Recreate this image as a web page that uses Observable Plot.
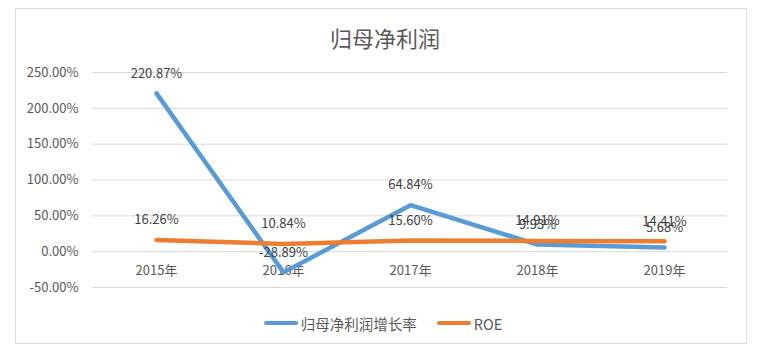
<!DOCTYPE html>
<html>
<head>
<meta charset="utf-8">
<script src="https://cdn.jsdelivr.net/npm/d3@7"></script>
<script src="https://cdn.jsdelivr.net/npm/@observablehq/plot@0.6"></script>
<style>
  body { margin: 0; background: #fff; }
  #wrap { position: relative; width: 766px; height: 351px; font-family: "Noto Sans CJK SC", "Noto Sans", sans-serif; }
  #border { position: absolute; left: 15px; top: 8px; width: 730px; height: 334px; border: 1px solid #d9d9d9; }
  #title { position: absolute; left: 0; width: 766px; top: 21px; text-align: center; font-size: 22px; color: #595959; padding-left: 4px; box-sizing: border-box; }
  #legend { position: absolute; left: 0; width: 766px; top: 308px; text-align: center; font-size: 14.5px; color: #595959; }
  .lg { display: inline-flex; align-items: center; margin: 0 10px; }
  .sw { display: inline-block; width: 34px; height: 4px; margin-right: 3px; border-radius: 2px; }
  #chart { position: absolute; left: 0; top: 0; }
</style>
</head>
<body>
<div id="wrap">
  <div id="border"></div>
  <div id="chart"></div>
  <div id="title"></div>
  <div id="legend"></div>
</div>
<script>
const title = "归母净利润";
const years = ["2015年", "2016年", "2017年", "2018年", "2019年"];
const growth = [220.87, -28.89, 64.84, 9.93, 5.68];
const roe = [16.26, 10.84, 15.60, 14.91, 14.41];
const yTicks = [-50, 0, 50, 100, 150, 200, 250];
const seriesNames = ["归母净利润增长率", "ROE"];
const colors = ["#5B9BD5", "#ED7D31"];

const rows = [];
years.forEach((y, i) => {
  rows.push({year: y, value: growth[i], series: seriesNames[0]});
  rows.push({year: y, value: roe[i], series: seriesNames[1]});
});
const fmt = v => v.toFixed(2) + "%";

const plot = Plot.plot({
  width: 766,
  height: 351,
  marginLeft: 92,
  marginRight: 39,
  marginTop: 72,
  marginBottom: 64,
  style: {fontFamily: '"Noto Sans CJK SC", "Noto Sans", sans-serif', fontSize: "13px", background: "transparent"},
  x: {type: "point", domain: years, padding: 0.5, axis: null},
  y: {domain: [-50, 250], axis: null},
  color: {domain: seriesNames, range: colors},
  marks: [
    Plot.ruleY(yTicks, {stroke: "#d9d9d9", strokeWidth: 1}),
    Plot.text(yTicks, {x: null, y: d => d, text: d => fmt(d), frameAnchor: "left", textAnchor: "end", dx: -14, fill: "#595959", fontSize: 13}),
    Plot.text(years, {x: d => d, y: () => 0, text: d => d, dy: 19, fill: "#595959", fontSize: 13}),
    Plot.line(rows, {x: "year", y: "value", z: "series", stroke: "series", strokeWidth: 4.5, strokeLinejoin: "round", strokeLinecap: "round"}),
    Plot.text(rows.filter(r => r.series === seriesNames[1]), {x: "year", y: "value", text: d => fmt(d.value), dy: -20, fill: "#404040", fontSize: 13}),
    Plot.text(rows.filter(r => r.series === seriesNames[0]), {x: "year", y: "value", text: d => fmt(d.value), dy: -20, fill: "#404040", fontSize: 13})
  ]
});
document.getElementById("chart").appendChild(plot);
document.getElementById("title").textContent = title;
const lg = document.getElementById("legend");
seriesNames.forEach((n, i) => {
  const s = document.createElement("span");
  s.className = "lg";
  const sw = document.createElement("span");
  sw.className = "sw";
  sw.style.background = colors[i];
  const t = document.createElement("span");
  t.textContent = n;
  s.appendChild(sw); s.appendChild(t);
  lg.appendChild(s);
});
</script>
</body>
</html>
